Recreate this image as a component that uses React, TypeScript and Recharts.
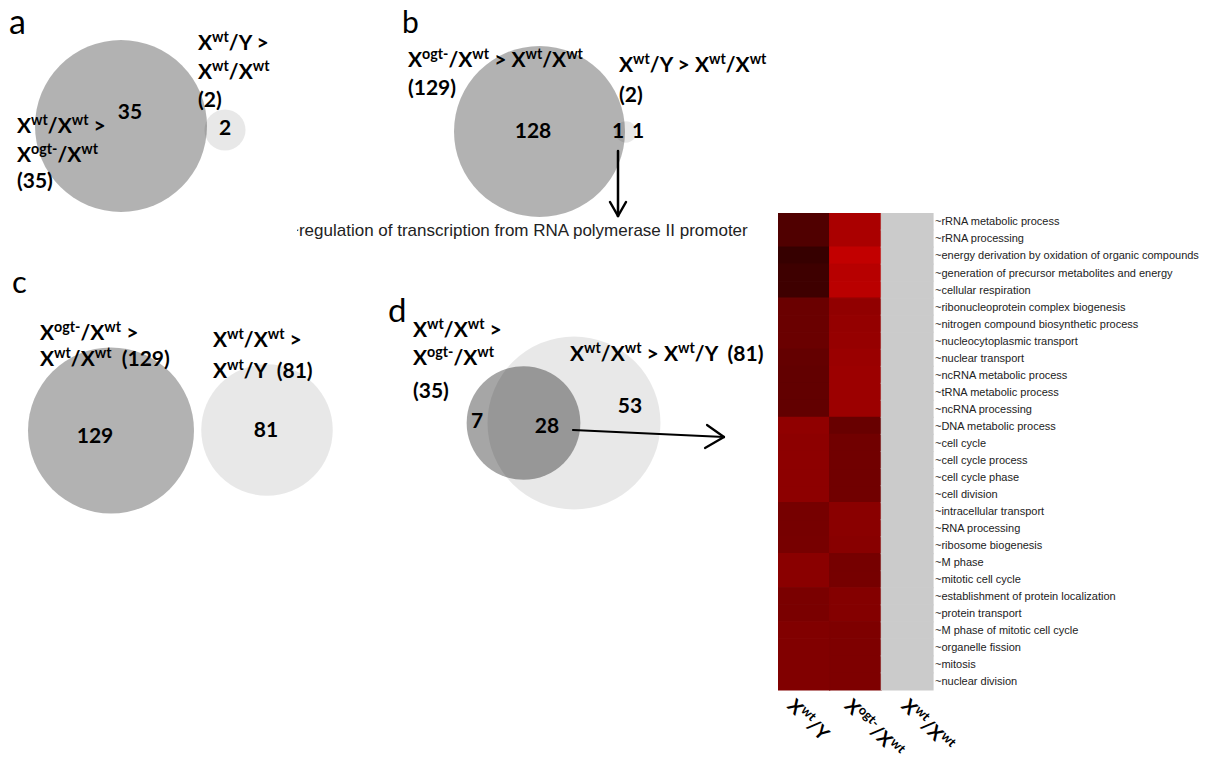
import { ScatterChart, Scatter, XAxis, YAxis, ZAxis, ReferenceLine, BarChart, Bar, Cell } from 'recharts';

// Venn counts per panel
const countsA = [35, 2]; // Xwt/Xwt > Xogt-/Xwt, Xwt/Y > Xwt/Xwt
const countsB = [129, 2]; // Xogt-/Xwt > Xwt/Xwt, Xwt/Y > Xwt/Xwt
const regionsB = [128, 1, 1];
const countsC = [129, 81]; // Xogt-/Xwt > Xwt/Xwt, Xwt/Xwt > Xwt/Y
const countsD = [35, 81]; // Xwt/Xwt > Xogt-/Xwt, Xwt/Xwt > Xwt/Y
const regionsD = [7, 28, 53];

// GO terms of the 28 overlapping genes
const goTerms = [
  '~rRNA metabolic process',
  '~rRNA processing',
  '~energy derivation by oxidation of organic compounds',
  '~generation of precursor metabolites and energy',
  '~cellular respiration',
  '~ribonucleoprotein complex biogenesis',
  '~nitrogen compound biosynthetic process',
  '~nucleocytoplasmic transport',
  '~nuclear transport',
  '~ncRNA metabolic process',
  '~tRNA metabolic process',
  '~ncRNA processing',
  '~DNA metabolic process',
  '~cell cycle',
  '~cell cycle process',
  '~cell cycle phase',
  '~cell division',
  '~intracellular transport',
  '~RNA processing',
  '~ribosome biogenesis',
  '~M phase',
  '~mitotic cell cycle',
  '~establishment of protein localization',
  '~protein transport',
  '~M phase of mitotic cell cycle',
  '~organelle fission',
  '~mitosis',
  '~nuclear division',
];

// enrichment (0..1) per column
const scoreXwtY = [0.21, 0.21, 0.04, 0.09, 0.09, 0.38, 0.38, 0.38, 0.34, 0.33, 0.33, 0.33, 0.63, 0.61, 0.61, 0.61, 0.61, 0.46, 0.46, 0.47, 0.59, 0.59, 0.49, 0.49, 0.53, 0.53, 0.53, 0.53];
const scoreXogt = [0.8, 0.8, 0.96, 0.89, 0.91, 0.64, 0.66, 0.67, 0.7, 0.71, 0.71, 0.71, 0.37, 0.43, 0.43, 0.43, 0.43, 0.59, 0.59, 0.58, 0.46, 0.46, 0.55, 0.55, 0.51, 0.51, 0.51, 0.51];
const scoreXwtXwt: (number | null)[] = goTerms.map(() => null);
const columnLabels = ['X^{wt}/Y', 'X^{ogt-}/X^{wt}', 'X^{wt}/X^{wt}'];

const heatColor = (v: number | null) =>
  v == null ? '#cbcbcb' : `rgb(${Math.round(48 + v * 152)},0,0)`;

const FONT = 'Lato, "Open Sans", sans-serif';
const HELV = '"Liberation Sans", Arial, sans-serif';

// layout of the venn panels (centres in page px, radius of the largest set)
const panels = [
  { id: 'a', counts: countsA, centres: [[121, 126], [225, 130]], shade: [0.3, 0.09], maxR: 86 },
  { id: 'b', counts: countsB, centres: [[539.5, 131.5], [626, 132]], shade: [0.3, 0.09], maxR: 85.5 },
  { id: 'c', counts: countsC, centres: [[111, 430.5], [267, 430]], shade: [0.3, 0.09], maxR: 83 },
  { id: 'd', counts: countsD, centres: [[523.5, 423], [574, 423]], shade: [0.35, 0.09], maxR: 86.5 },
];

function richSpans(text: string, size: number) {
  const parts = text.split(/(\^\{[^}]*\})/).filter(Boolean);
  const rise = size * 0.37;
  let raised = false;
  return parts.map((p, i) => {
    const sup = p.startsWith('^{');
    const dy = sup ? (raised ? 0 : -rise) : raised ? rise : 0;
    raised = sup;
    return (
      <tspan key={i} dy={dy} fontSize={sup ? size * 0.68 : size}>
        {sup ? p.slice(2, -1) : p}
      </tspan>
    );
  });
}

const VennCircle = (props: any) => {
  const { cx, cy, width, payload } = props;
  return <circle cx={cx} cy={cy} r={width / 2} fill="#000" fillOpacity={payload.shade} />;
};

const ColumnTick = (props: any) => {
  const { x, y, index } = props;
  const offs = [-17.5, -12, -7];
  const x0 = x + offs[index];
  const y0 = y + 17;
  return (
    <text x={x0} y={y0} transform={`rotate(45 ${x0} ${y0})`} fontFamily={FONT} fontWeight={700} fontSize={19} fill="#000">
      {richSpans(columnLabels[index], 19)}
    </text>
  );
};

const TermTick = (props: any) => {
  const { x, y, payload } = props;
  return (
    <text x={x} y={y} dy="0.355em" fontFamily={HELV} fontSize={11} fill="#222">
      {payload.value}
    </text>
  );
};

const letters = [
  { t: 'a', x: 9, y: 34, s: 34 },
  { t: 'b', x: 402, y: 33, s: 30 },
  { t: 'c', x: 12, y: 293, s: 31 },
  { t: 'd', x: 388, y: 322, s: 33 },
];

const setLabels = [
  { t: 'X^{wt}/Y >', x: 198, y: 50 },
  { t: 'X^{wt}/X^{wt}', x: 198, y: 79 },
  { t: `(${countsA[1]})`, x: 198, y: 107 },
  { t: 'X^{wt}/X^{wt} >', x: 17, y: 133 },
  { t: 'X^{ogt-}/X^{wt}', x: 17, y: 162 },
  { t: `(${countsA[0]})`, x: 17, y: 188 },
  { t: 'X^{ogt-}/X^{wt} > X^{wt}/X^{wt}', x: 408, y: 67 },
  { t: `(${countsB[0]})`, x: 408, y: 95 },
  { t: 'X^{wt}/Y > X^{wt}/X^{wt}', x: 619, y: 72 },
  { t: `(${countsB[1]})`, x: 619, y: 102 },
  { t: 'X^{ogt-}/X^{wt} >', x: 40, y: 340 },
  { t: `X^{wt}/X^{wt}  (${countsC[0]})`, x: 40, y: 366 },
  { t: 'X^{wt}/X^{wt} >', x: 213, y: 347 },
  { t: `X^{wt}/Y  (${countsC[1]})`, x: 213, y: 378 },
  { t: 'X^{wt}/X^{wt} >', x: 413, y: 337 },
  { t: 'X^{ogt-}/X^{wt}', x: 413, y: 365 },
  { t: `(${countsD[0]})`, x: 413, y: 398 },
  { t: `X^{wt}/X^{wt} > X^{wt}/Y  (${countsD[1]})`, x: 570, y: 361 },
];

const countLabels = [
  { v: countsA[0], x: 130, y: 119 },
  { v: countsA[1], x: 225, y: 135 },
  { v: regionsB[0], x: 533, y: 138 },
  { v: regionsB[1], x: 618, y: 138 },
  { v: regionsB[2], x: 638, y: 138 },
  { v: countsC[0], x: 95, y: 443 },
  { v: countsC[1], x: 266, y: 437 },
  { v: regionsD[0], x: 477, y: 428 },
  { v: regionsD[1], x: 547, y: 433 },
  { v: regionsD[2], x: 630, y: 413 },
];

const arrows = [
  [[618, 151], [618, 216]],
  [[610, 202], [618, 216]],
  [[626, 202], [618, 216]],
  [[573, 430], [724, 437]],
  [[707, 425], [724, 437]],
  [[705, 448], [724, 437]],
];

export default function App() {
  const heatRows = goTerms.map((term) => ({ term, c0: 1, c1: 1, c2: 1 }));
  const scores = [scoreXwtY, scoreXogt, scoreXwtXwt];

  return (
    <div style={{ position: 'absolute', left: 0, top: 0, width: 1209, height: 757, background: '#fff', overflow: 'hidden' }}>
      <div style={{ position: 'absolute', left: 0, top: 0 }}>
        <ScatterChart width={770} height={540} margin={{ top: 0, right: 0, bottom: 0, left: 0 }}>
          <XAxis type="number" dataKey="x" domain={[0, 770]} hide />
          <YAxis type="number" dataKey="y" domain={[0, 540]} reversed hide />
          {panels.map((p) => (
            <ZAxis
              key={'z' + p.id}
              zAxisId={p.id}
              type="number"
              dataKey="count"
              domain={[0, Math.max(...p.counts)]}
              range={[0, Math.PI * p.maxR * p.maxR]}
            />
          ))}
          {panels.map((p) => (
            <Scatter
              key={'s' + p.id}
              zAxisId={p.id}
              data={p.counts.map((count, i) => ({ x: p.centres[i][0], y: p.centres[i][1], count, shade: p.shade[i] }))}
              shape={VennCircle}
              isAnimationActive={false}
            />
          ))}
          {arrows.map((seg, i) => (
            <ReferenceLine
              key={'ar' + i}
              segment={[{ x: seg[0][0], y: seg[0][1] }, { x: seg[1][0], y: seg[1][1] }]}
              stroke="#000"
              strokeWidth={i < 3 ? 2.5 : 2.2}
              strokeLinecap="round"
            />
          ))}
        </ScatterChart>
      </div>

      <div style={{ position: 'absolute', left: 778, top: 213 }}>
        <BarChart
          width={431}
          height={547}
          data={heatRows}
          layout="vertical"
          margin={{ top: 0, right: 0, bottom: 0, left: 0 }}
          barCategoryGap={0}
          barGap={0}
        >
          <XAxis
            type="number"
            domain={[0, 3]}
            ticks={[0.5, 1.5, 2.5]}
            interval={0}
            height={70}
            axisLine={false}
            tickLine={false}
            tickSize={0}
            tickMargin={0}
            tick={<ColumnTick />}
          />
          <YAxis
            type="category"
            dataKey="term"
            orientation="right"
            width={276}
            interval={0}
            axisLine={false}
            tickLine={false}
            tickSize={0}
            tickMargin={2}
            tick={<TermTick />}
          />
          {[0, 1, 2].map((k) => (
            <Bar key={k} dataKey={'c' + k} stackId="h" isAnimationActive={false}>
              {heatRows.map((_, i) => (
                <Cell key={i} fill={heatColor(scores[k][i])} stroke={heatColor(scores[k][i])} strokeWidth={1.2} />
              ))}
            </Bar>
          ))}
        </BarChart>
      </div>

      <svg width={1209} height={757} style={{ position: 'absolute', left: 0, top: 0, pointerEvents: 'none' }}>
        <defs>
          <clipPath id="capClip">
            <rect x={297} y={200} width={480} height={50} />
          </clipPath>
        </defs>
        {letters.map((l) => (
          <text key={l.t} x={l.x} y={l.y} fontFamily={FONT} fontSize={l.s} fill="#000">
            {l.t}
          </text>
        ))}
        {setLabels.map((l, i) => (
          <text key={i} x={l.x} y={l.y} fontFamily={FONT} fontWeight={700} fontSize={21} fill="#000" style={{ whiteSpace: 'pre' }}>
            {richSpans(l.t, 21)}
          </text>
        ))}
        {countLabels.map((l, i) => (
          <text key={i} x={l.x} y={l.y} textAnchor="middle" fontFamily={FONT} fontWeight={700} fontSize={21} fill="#000">
            {l.v}
          </text>
        ))}
        <text x={289} y={236} clipPath="url(#capClip)" fontFamily={HELV} fontSize={17} fill="#222">
          ~regulation of transcription from RNA polymerase II promoter
        </text>
      </svg>
    </div>
  );
}
